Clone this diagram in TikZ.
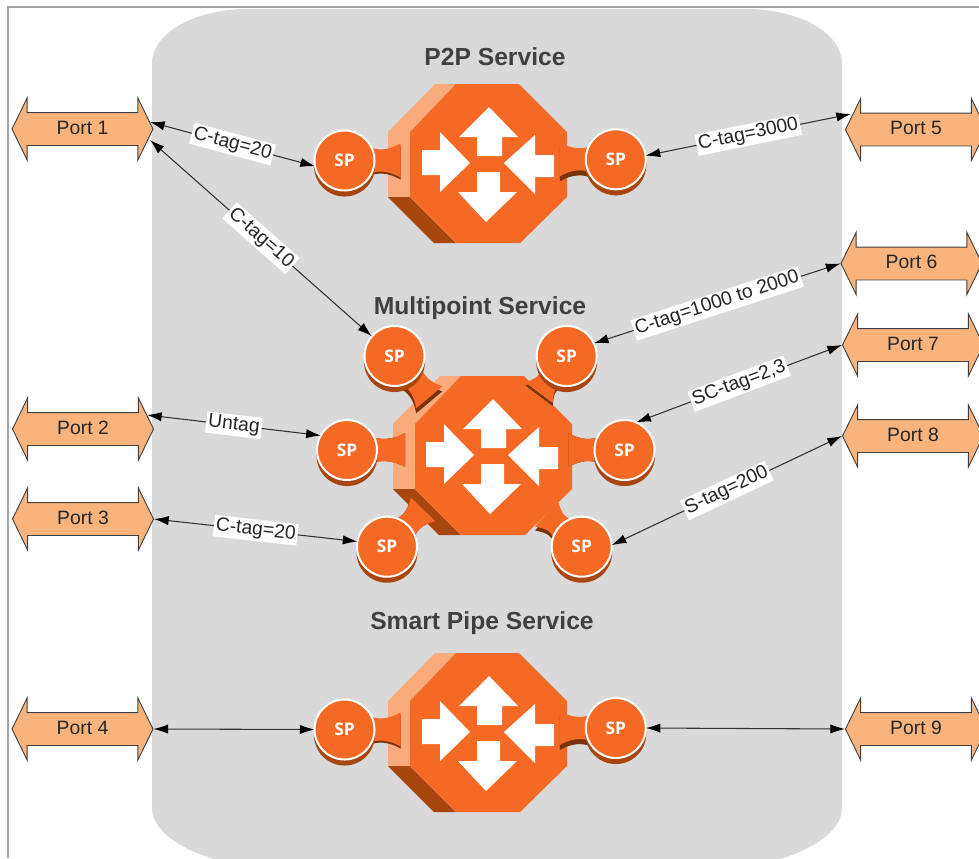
\documentclass[tikz,border=0pt]{standalone}
\usepackage{fontspec}
\setmainfont{Liberation Sans}
\newfontfamily\spfont{Open Sans}
\usepackage{tikz}
\usetikzlibrary{shapes.arrows,arrows.meta}
\definecolor{sporange}{HTML}{F46A25}
\definecolor{splight}{HTML}{F9AB7B}
\definecolor{spdark}{HTML}{A8460F}
\definecolor{spneckdark}{HTML}{7A3209}
\definecolor{portfill}{HTML}{F9B47E}
\definecolor{cloudgray}{HTML}{D9D9D9}
\definecolor{titlegray}{HTML}{404040}
\tikzset{
  port/.style={double arrow,draw=black!75,line width=0.7pt,fill=portfill,text=black!85,font=\fontsize{14.5}{16}\selectfont,
    inner xsep=0pt,inner ysep=7pt,text height=9.1pt,text depth=0.9pt,minimum height=105.75pt,minimum width=46pt,
    double arrow head extend=11pt,double arrow tip angle=128},
  spcircle/.style={circle,draw=white,line width=1.5pt,fill=sporange,text=white,minimum size=45pt,inner sep=0pt,outer sep=0pt,
    font=\spfont\bfseries\fontsize{13}{13}\selectfont},
  title/.style={text=titlegray,font=\bfseries\fontsize{18.5}{20}\selectfont},
  link/.style={black!80,line width=0.8pt,{Latex[length=11pt,width=7pt,black]}-{Latex[length=11pt,width=7pt,black]}},
  tag/.style={fill=white,text=black!85,inner sep=1.5pt,sloped,font=\fontsize{14.5}{16}\selectfont}
}
% one octagon with its faces
\newcommand{\router}[2]{
\begin{scope}[shift={(#1,#2)}]
\fill[splight] (435,84) -- (456,84) -- (410,132) -- (410,197) -- (388,197) -- (388,132) -- cycle;
\fill[spdark] (388,197) -- (410,197) -- (456,243) -- (434,243) -- cycle;
\fill[sporange] (456,84) -- (519,84) -- (567,132) -- (567,197) -- (520,243) -- (456,243) -- (410,197) -- (410,132) -- cycle;
\end{scope}
}
\newcommand{\routerarrows}[2]{
\begin{scope}[shift={(#1,#2)}]
\fill[white] (489,107) -- (518,137) -- (502,137) -- (502,156) -- (477,156) -- (477,137) -- (459,137) -- cycle;
\fill[white] (470,163) -- (440,192) -- (440,175) -- (422,175) -- (422,150) -- (440,150) -- (440,132) -- cycle;
\fill[white] (504,163) -- (535,135) -- (535,155) -- (554,155) -- (554,177) -- (535,177) -- (535,194) -- cycle;
\fill[white] (486,222) -- (458,192) -- (477,192) -- (477,172) -- (500,172) -- (500,192) -- (517,192) -- cycle;
\end{scope}
}
% name, x, y, direction of the neck, length of the neck, drop of its shadow
\newcommand{\spnode}[6]{
\fill[spneckdark,shift={(#2,#3+#6)},rotate=#4] (26,-13) .. controls (33,-10) and (#5-12,-10) .. (#5,-17) -- (#5,17) .. controls (#5-12,10) and (33,10) .. (26,13) -- cycle;
\fill[sporange,shift={(#2,#3)},rotate=#4] (26,-13) .. controls (33,-10) and (#5-12,-10) .. (#5,-17) -- (#5,17) .. controls (#5-12,10) and (33,10) .. (26,13) -- cycle;
\fill[spdark] (#2,#3+5.5) circle (22.9pt);
\node (#1) at (#2,#3) [spcircle] {SP};
}
\begin{document}
\begin{tikzpicture}[x=0.75pt,y=-0.75pt]
\clip (0,0) rectangle (979,858);

\draw[gray!70,line width=0.8pt] (8,858) -- (8,7) -- (979,7);

\fill[cloudgray] (152,64) .. controls (152,30) and (200,9) .. (247,9) -- (747,9) .. controls (794,9) and (842,30) .. (842,64) -- (842,808) .. controls (842,835) and (800,858) .. (750,866) -- (244,866) .. controls (194,858) and (152,835) .. (152,808) -- cycle;

\node at (495,57) [title] {P2P Service};
\node at (480,308) [title] {Multipoint Service};
\node at (482,623) [title] {Smart Pipe Service};

%routers
\router{0}{0}
\spnode{sppa}{344.5}{160.5}{0}{56}{2}
\spnode{sppb}{615.8}{159.3}{180}{56}{5}
\routerarrows{0}{0}

\router{5}{292}
\spnode{mpa}{394.5}{356}{-50}{54}{5}
\spnode{mpb}{566.7}{356}{-127}{46}{3}
\spnode{mpc}{347}{450}{0}{58}{0}
\spnode{mpd}{624.5}{450}{180}{56}{0}
\spnode{mpe}{387}{546.7}{46}{52}{0}
\spnode{mpf}{581.7}{546.7}{137}{48}{4}
\routerarrows{4}{292}

\router{0}{569}
\spnode{spa}{344.5}{729.5}{0}{56}{2}
\spnode{spb}{615.8}{728}{180}{56}{5}
\routerarrows{0}{569}

%ports
\node (pa) at (82.5,129) [port] {Port 1};
\node (pb) at (83,429) [port] {Port 2};
\node (pc) at (83,519) [port] {Port 3};
\node (pd) at (82.5,729) [port] {Port 4};
\node (pe) at (916,129.5) [port] {Port 5};
\node (pf) at (911.5,263.5) [port] {Port 6};
\node (pg) at (913,345) [port] {Port 7};
\node (ph) at (913,436) [port] {Port 8};
\node (pi) at (916,729) [port] {Port 9};

\coordinate (paup) at (150,122);
\coordinate (padown) at (150,140);
\coordinate (pbup) at (147,415);
\coordinate (peup) at (851,114);

%links
\draw [link] (paup) -- (sppa.191) node [tag,midway] {C-tag=20};
\draw [link] (padown) -- (mpa.139) node [tag,midway] {C-tag=10};
\draw [link] (sppb.7) -- (peup) node [tag,midway] {C-tag=3000};
\draw [link] (mpb.25) -- (pf.west) node [tag,midway] {C-tag=1000 to 2000};
\draw [link] (mpd.67) -- (pg.west) node [tag,midway] {SC-tag=2,3};
\draw [link] (mpf.3) -- (ph.west) node [tag,midway] {S-tag=200};
\draw [link] (pbup) -- (mpc.151) node [tag,midway] {Untag};
\draw [link] (pc.east) -- (mpe.170) node [tag,midway] {C-tag=20};
\draw [link] (pd.east) -- (spa.west);
\draw [link] (spb.east) -- (pi.west);
\end{tikzpicture}
\end{document}
